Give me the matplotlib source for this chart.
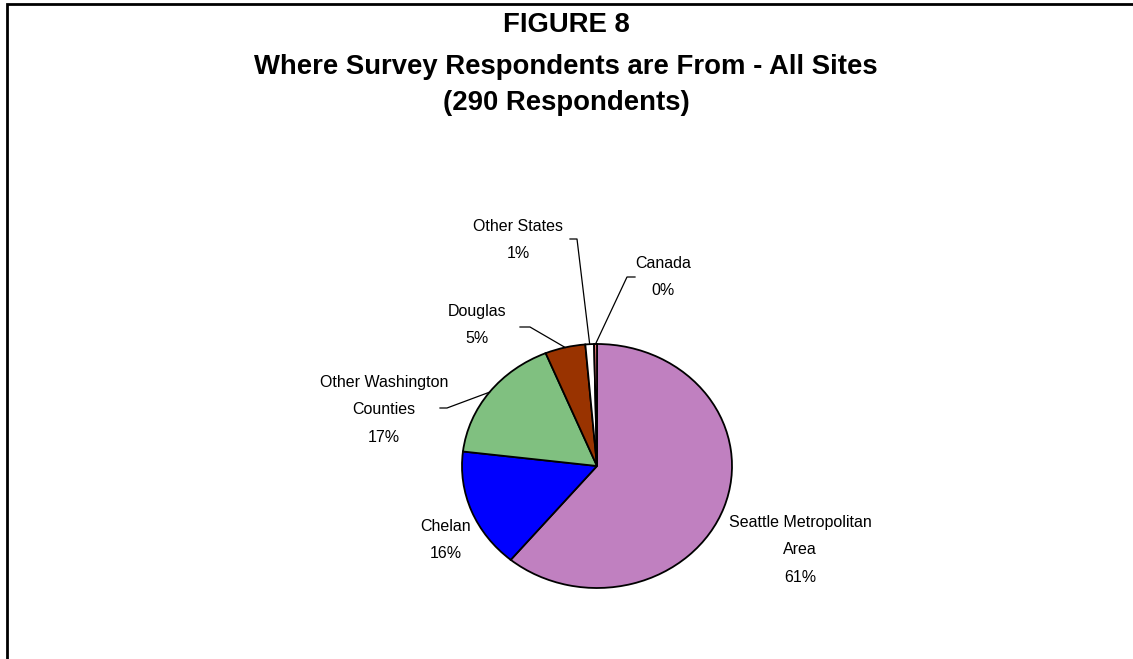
#!/usr/bin/env python3
import numpy as np
import matplotlib
matplotlib.use('Agg')
import matplotlib.pyplot as plt

# respondent counts (290 total)
labels = ['Seattle Metropolitan\nArea', 'Chelan', 'Other Washington\nCounties',
          'Douglas', 'Other States', 'Canada']
counts = [177, 46, 49, 14, 3, 1]
colors = ['#C080C0', '#0000FF', '#80C080', '#993300', '#FFFFFF', '#F08080']

W, H = 1133, 659
plt.rcParams['font.family'] = ['Liberation Sans', 'DejaVu Sans']

fig = plt.figure(figsize=(W / 100, H / 100), dpi=100)

# elliptical pie
cx, cy, rx, ry = 597, 466, 135, 122
ax = fig.add_axes([(cx - rx) / W, 1 - (cy + ry) / H, 2 * rx / W, 2 * ry / H])
wedges, _ = ax.pie(counts, colors=colors, startangle=90, counterclock=False,
                   wedgeprops=dict(edgecolor='black', linewidth=1.3))
ax.set_aspect('auto')
ax.set_xlim(-1, 1)
ax.set_ylim(-1, 1)
ax.axis('off')

# overlay axes in pixel coords for frame, labels and leader lines
over = fig.add_axes([0, 0, 1, 1], zorder=5)
over.set_xlim(0, W)
over.set_ylim(H, 0)
over.axis('off')
over.patch.set_alpha(0)
over.plot([7, 7, W], [H, 4, 4], color='black', lw=2, solid_joinstyle='miter')

total = sum(counts)
pct = ['{:.0f}%'.format(100 * c / total) for c in counts]


def edge_point(w):
    mid = np.deg2rad((w.theta1 + w.theta2) / 2)
    disp = ax.transData.transform((np.cos(mid), np.sin(mid)))
    return over.transData.inverted().transform(disp)


def txt(x, y, s):
    over.text(x, y, s, ha='center', va='center', fontsize=11.5,
              linespacing=2.05)


# label position, leader start (text side) for each slice
label_pos = [(800, 550), (446, 540), (384, 410), (477, 325), (518, 240), (663, 277)]
leaders = [None, None, (440, 447, 408), (520, 530, 327), (570, 577, 239), (635, 627, 277)]

for w, lab, p, (lx, ly), ld in zip(wedges, labels, pct, label_pos, leaders):
    txt(lx, ly, lab + '\n' + p)
    if ld is not None:
        x0, x1, y0 = ld
        ex, ey = edge_point(w)
        over.plot([x0, x1, ex], [y0, y0, ey], color='black', lw=0.9)

fig.text(566 / W, 1 - 25 / H, 'FIGURE 8', ha='center', va='center',
         fontsize=19.8, fontweight='bold')
fig.text(566 / W, 1 - 67 / H, 'Where Survey Respondents are From - All Sites',
         ha='center', va='center', fontsize=19.8, fontweight='bold')
fig.text(566 / W, 1 - 103 / H, '(290 Respondents)', ha='center', va='center',
         fontsize=19.8, fontweight='bold')

fig.savefig('out.png', dpi=100)
